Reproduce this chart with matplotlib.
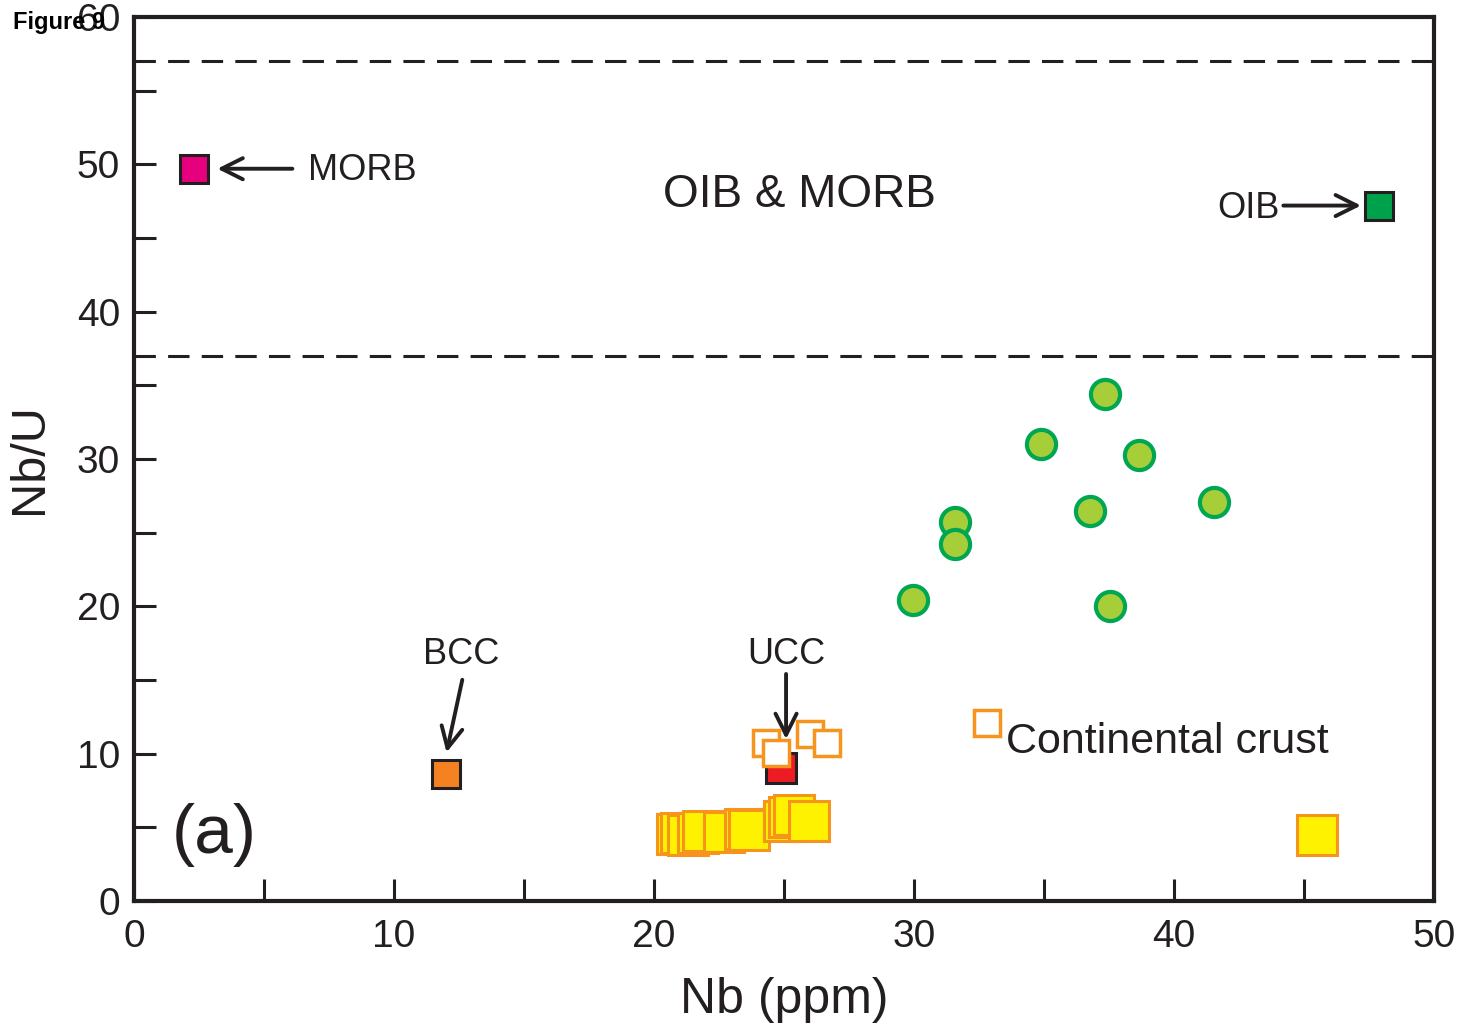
import matplotlib
matplotlib.use("Agg")
import matplotlib.pyplot as plt

plt.rcParams['font.family'] = ['Liberation Sans', 'DejaVu Sans']

# samples (green circles)
circ_nb = [29.96, 31.58, 31.58, 34.88, 36.77, 37.35, 38.65, 37.54, 41.54]
circ_nbu = [20.45, 25.75, 24.2, 31.0, 26.5, 34.4, 30.3, 20.05, 27.1]

# continental crust, yellow squares
yel_nb = [20.9, 21.05, 21.3, 21.7, 21.9, 22.7, 23.5, 23.65, 25.0, 25.2, 25.4, 25.96, 45.5]
yel_nbu = [4.55, 4.6, 4.5, 4.6, 4.75, 4.7, 4.9, 4.8, 5.4, 5.7, 5.85, 5.4, 4.5]

# continental crust, open squares
open_nb = [24.3, 26.0, 26.65, 24.7]
open_nbu = [10.7, 11.35, 10.7, 10.05]

# reference reservoirs
ref_names = ["MORB", "OIB", "BCC", "UCC"]
ref_nb = [2.3, 47.9, 12.0, 24.9]
ref_nbu = [49.7, 47.2, 8.6, 9.0]
ref_colors = ["#e6007e", "#00a14b", "#f58220", "#ed1c24"]

ink = "#231f20"

fig = plt.figure(figsize=(14.61, 10.28), dpi=100)
ax = fig.add_axes([0.0917, 0.1235, 0.8898, 0.86])
ax.set_xlim(0, 50)
ax.set_ylim(0, 60)

ax.axhline(57, color=ink, lw=2.2, ls=(0, (7, 4)))
ax.axhline(37, color=ink, lw=2.2, ls=(0, (7, 4)))

ax.plot(yel_nb, yel_nbu, ls="none", marker="s", ms=29, mfc="#fff200",
        mec="#f7941d", mew=2.2, zorder=3)
ax.plot(ref_nb[3], ref_nbu[3], ls="none", marker="s", ms=21, mfc=ref_colors[3],
        mec=ink, mew=2.2, zorder=4)
ax.plot(open_nb, open_nbu, ls="none", marker="s", ms=19, mfc="white",
        mec="#f7941d", mew=2.5, zorder=5)
ax.plot(circ_nb, circ_nbu, ls="none", marker="o", ms=21, mfc="#a6ce39",
        mec="#00a651", mew=3, zorder=5)
for i in range(3):
    ax.plot(ref_nb[i], ref_nbu[i], ls="none", marker="s", ms=20,
            mfc=ref_colors[i], mec=ink, mew=2.2, zorder=5)

# legend square
ax.plot(32.8, 12.1, ls="none", marker="s", ms=19, mfc="white",
        mec="#f7941d", mew=2.5, zorder=5)
ax.text(33.55, 10.8, "Continental crust", fontsize=31, va="center", ha="left",
        color=ink)

arrow = dict(arrowstyle="->", color=ink, lw=2.8, mutation_scale=38)
ax.annotate("", xy=(3.1, 49.7), xytext=(6.2, 49.7), arrowprops=arrow)
ax.text(6.7, 49.6, "MORB", fontsize=26, va="center", ha="left", color=ink)
ax.annotate("", xy=(47.3, 47.2), xytext=(44.1, 47.2), arrowprops=arrow)
ax.text(44.05, 47.0, "OIB", fontsize=26, va="center", ha="right", color=ink)
ax.annotate("", xy=(12.0, 9.9), xytext=(12.65, 15.2), arrowprops=arrow)
ax.text(12.6, 16.7, "BCC", fontsize=26, va="center", ha="center", color=ink)
ax.annotate("", xy=(25.08, 10.8), xytext=(25.08, 15.6), arrowprops=arrow)
ax.text(25.1, 16.7, "UCC", fontsize=26, va="center", ha="center", color=ink)

ax.text(25.6, 47.9, "OIB & MORB", fontsize=33, va="center", ha="center",
        color=ink)
ax.text(3.1, 4.5, "(a)", fontsize=50, va="center", ha="center", color=ink)

ax.set_xticks(range(0, 51, 10))
ax.set_xticks(range(5, 50, 10), minor=True)
ax.set_yticks(range(0, 61, 10))
ax.set_yticks(range(5, 60, 10), minor=True)
ax.tick_params(which="both", direction="in", length=16, width=2.2,
               colors=ink, labelsize=28)
ax.tick_params(axis="x", which="both", pad=13)
ax.tick_params(axis="y", which="both", pad=10)
for s in ax.spines.values():
    s.set_linewidth(3)
    s.set_color(ink)

ax.set_xlabel("Nb (ppm)", fontsize=36, color=ink, labelpad=16)
ax.set_ylabel("Nb/U", fontsize=35, color=ink, labelpad=18)

fig.text(0.009, 0.978, "Figure 9", fontsize=17, fontweight="bold",
         va="center", ha="left")

fig.savefig("out.png", dpi=100)
